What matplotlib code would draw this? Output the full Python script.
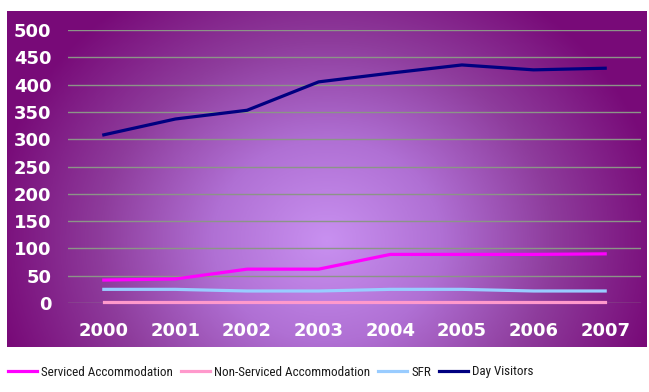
import numpy as np
import matplotlib
matplotlib.use('Agg')
from matplotlib import pyplot as plt
from matplotlib import font_manager
from matplotlib.colors import LinearSegmentedColormap

# visitor numbers by year
years = ['2000', '2001', '2002', '2003', '2004', '2005', '2006', '2007']
serviced = [42, 44, 62, 62, 89, 89, 89, 90]
non_serviced = [1, 1, 1, 1, 1, 1, 1, 1]
sfr = [25, 25, 22, 22, 25, 25, 22, 22]
day_visitors = [308, 337, 353, 405, 421, 436, 427, 430]

fig = plt.figure(figsize=(6.49, 3.92), dpi=100)

# purple backdrop with a soft radial glow
bg = fig.add_axes([7/649, 1 - 347/392, 640/649, 336/392])
bg.set_axis_off()
gx, gy = np.meshgrid(np.linspace(0, 640, 320), np.linspace(0, 336, 168))
r = np.sqrt(((gx - 320) / 340) ** 2 + ((gy - 230) / 300) ** 2)
glow = LinearSegmentedColormap.from_list('glow', ['#c890f0', '#b070d4', '#8e3c9c', '#780a78'])
bg.imshow(np.clip(r, 0, 1), cmap=glow, aspect='auto', origin='upper',
          extent=(0, 640, 336, 0), interpolation='bilinear')
bg.set_xlim(0, 640)
bg.set_ylim(336, 0)

ax = fig.add_axes([68/649, 1 - 303/392, 573/649, 273/392])
ax.patch.set_alpha(0)
x = np.arange(len(years))
ax.plot(x, serviced, color='#ff00ff', lw=2.3, label='Serviced Accommodation')
ax.plot(x, non_serviced, color='#ff99cc', lw=2.3, label='Non-Serviced Accommodation', clip_on=False)
ax.plot(x, sfr, color='#99ccff', lw=2.3, label='SFR')
ax.plot(x, day_visitors, color='#000080', lw=2.3, label='Day Visitors')

ax.set_xlim(-0.5, 7.5)
ax.set_ylim(0, 500)
ax.set_yticks(range(0, 501, 50))
ax.set_xticks(x)
ax.set_xticklabels(years)
ax.grid(axis='y', color='#8c9488', lw=1)
ax.set_axisbelow(True)
for s in ax.spines.values():
    s.set_visible(False)
ax.tick_params(length=0, colors='white')
ax.tick_params(axis='y', pad=12)
ax.tick_params(axis='x', pad=14)
for t in ax.get_xticklabels() + ax.get_yticklabels():
    t.set_fontfamily('DejaVu Sans')
    t.set_fontsize(13)
    t.set_fontweight('bold')

# narrow face for the legend if there is one
installed = {f.name for f in font_manager.fontManager.ttflist}
if 'Roboto Condensed' in installed:
    leg_font = {'family': 'Roboto Condensed', 'size': 9.4}
else:
    leg_font = {'family': 'Roboto', 'size': 8.2}

fig.legend(loc='center left', bbox_to_anchor=(8/649, 1 - 372/392), ncol=4,
           frameon=False, borderpad=0, borderaxespad=0, handlelength=2.2,
           handletextpad=0.35, columnspacing=0.6, prop=leg_font, labelcolor='#1a1a1a')

fig.savefig('out.png', dpi=100, facecolor='white')
